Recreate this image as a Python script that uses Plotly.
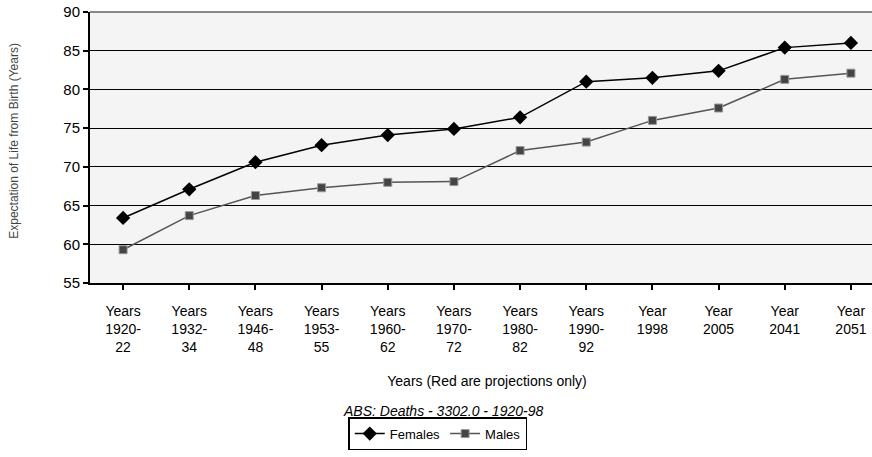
import plotly.graph_objects as go

categories = ["Years<br>1920-<br>22", "Years<br>1932-<br>34", "Years<br>1946-<br>48", "Years<br>1953-<br>55",
              "Years<br>1960-<br>62", "Years<br>1970-<br>72", "Years<br>1980-<br>82", "Years<br>1990-<br>92",
              "Year<br>1998", "Year<br>2005", "Year<br>2041", "Year<br>2051"]
females = [63.4, 67.1, 70.6, 72.8, 74.1, 74.9, 76.4, 81.0, 81.5, 82.4, 85.4, 86.0]
males = [59.3, 63.7, 66.3, 67.3, 68.0, 68.1, 72.1, 73.2, 76.0, 77.6, 81.3, 82.1]
y_ticks = [55, 60, 65, 70, 75, 80, 85, 90]

x = list(range(len(categories)))
fig = go.Figure()
fig.add_trace(go.Scatter(x=x, y=females, name="Females", mode="lines+markers",
                         line=dict(color="#000000", width=1.5),
                         marker=dict(symbol="diamond", size=11, color="#000000")))
fig.add_trace(go.Scatter(x=x, y=males, name="Males", mode="lines+markers",
                         line=dict(color="#555555", width=1.5),
                         marker=dict(symbol="square", size=8, color="#444444",
                                     line=dict(color="#999999", width=1))))

fig.update_layout(
    width=884, height=457,
    margin=dict(l=90, r=0, t=12, b=174),
    paper_bgcolor="white", plot_bgcolor="#f4f4f4",
    font=dict(family="Liberation Sans, Arial, sans-serif", size=13, color="#000000"),
    xaxis=dict(range=[-0.5, 11.5], tickmode="array", tickvals=x, ticktext=categories,
               ticks="outside", ticklen=5, tickwidth=1.5, tickcolor="#000", tickson="boundaries",
               showline=True, linecolor="#000", linewidth=2, showgrid=False, zeroline=False,
               tickfont=dict(size=14), ticklabelstandoff=9, automargin=False,
               title=dict(text="Years (Red are projections only)", font=dict(size=14), standoff=22)),
    yaxis=dict(range=[55, 90], tickvals=y_ticks, ticks="outside", ticklen=5, tickwidth=1.5,
               tickcolor="#000", showline=True, linecolor="#000", linewidth=2,
               showgrid=True, gridcolor="#000", gridwidth=1, zeroline=False,
               tickfont=dict(size=15), automargin=False),
    legend=dict(orientation="h", x=0.438, xanchor="center", y=-0.495, yanchor="top",
                bordercolor="#000", borderwidth=1.5, bgcolor="white",
                font=dict(size=13), itemwidth=30, tracegroupgap=0),
    showlegend=True,
)
fig.add_shape(type="line", xref="paper", yref="paper", x0=0, x1=1, y0=1, y1=1,
              line=dict(color="#888", width=2))
fig.add_annotation(text="<i>ABS: Deaths - 3302.0 - 1920-98</i>", xref="paper", yref="paper",
                   x=0.444, y=-0.472, xanchor="center", yanchor="middle", showarrow=False,
                   font=dict(size=14))
fig.add_annotation(text="Expectation of Life from Birth (Years)", xref="paper", yref="paper",
                   x=-0.096, y=0.524, xanchor="center", yanchor="middle", showarrow=False,
                   textangle=-90, font=dict(size=12, color="#444"))
fig.write_html("out.html", config={"displayModeBar": False},
               post_script="document.body.style.margin='0';"
                           "document.documentElement.style.overflow='hidden';"
                           "document.body.style.overflow='hidden';")
